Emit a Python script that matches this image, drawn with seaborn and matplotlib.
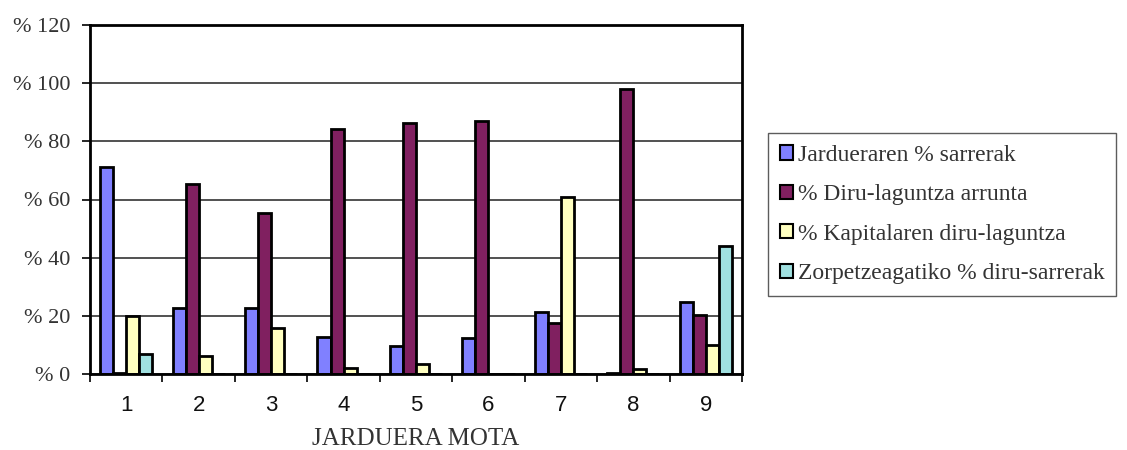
import numpy as np
import pandas as pd
import matplotlib
matplotlib.use("Agg")
import matplotlib.pyplot as plt
import seaborn as sns
from matplotlib.patches import Patch

# Activity types and revenue shares (%)
categories = ["1", "2", "3", "4", "5", "6", "7", "8", "9"]
series_names = [
    "Jardueraren % sarrerak",
    "% Diru-laguntza arrunta",
    "% Kapitalaren diru-laguntza",
    "Zorpetzeagatiko % diru-sarrerak",
]
jarduera = [71.2, 22.6, 22.6, 12.6, 9.6, 12.3, 21.4, 0.3, 24.9]
arrunta = [0.3, 65.4, 55.5, 84.2, 86.2, 87.0, 17.4, 97.9, 20.3]
kapitala = [20.0, 6.2, 15.7, 2.2, 3.4, 0.0, 60.9, 1.7, 10.0]
zorpetze = [6.9, 0.0, 0.0, 0.0, 0.0, 0.0, 0.0, 0.0, 44.1]
y_ticks = [0, 20, 40, 60, 80, 100, 120]
y_tick_labels = ["% 0", "% 20", "% 40", "% 60", "% 80", "% 100", "% 120"]
x_title = "JARDUERA MOTA"

colors = ["#8080FF", "#802060", "#FFFFC0", "#A0E0E0"]

df = pd.DataFrame({
    "mota": categories * 4,
    "serie": np.repeat(series_names, len(categories)),
    "balioa": jarduera + arrunta + kapitala + zorpetze,
})

sns.set_style("white")
serif = ["Liberation Serif", "DejaVu Serif"]
plt.rcParams["font.family"] = serif

fig = plt.figure(figsize=(11.27, 4.5), dpi=100)
ax = fig.add_axes([90 / 1127, 1 - 374 / 450, (742 - 90) / 1127, (374 - 25) / 450])

sns.barplot(data=df, x="mota", y="balioa", hue="serie", order=categories,
            hue_order=series_names, palette=colors, width=0.72,
            edgecolor="black", linewidth=2, saturation=1, legend=False, ax=ax)

ax.set_ylim(0, 120)
ax.set_xlim(-0.5, len(categories) - 0.5)
ax.set_yticks(y_ticks)
ax.set_yticklabels(y_tick_labels, fontsize=16, color="#333333")
ax.yaxis.grid(True, color="#333333", linewidth=1.2)
ax.set_axisbelow(True)

# Boundary ticks between categories, labels at category centres
ax.set_xticks(np.arange(-0.5, len(categories), 1))
ax.set_xticklabels([])
ax.set_xticks(np.arange(len(categories)), minor=True)
ax.set_xticklabels(categories, minor=True, fontsize=16, color="#111111",
                   family=["Liberation Sans", "DejaVu Sans"])
ax.tick_params(axis="x", which="major", direction="out", length=6, width=1.2,
               color="black", bottom=True)
ax.tick_params(axis="x", which="minor", length=0, pad=15, bottom=True)
ax.tick_params(axis="y", direction="out", length=6, width=1.2, color="black",
               left=True, pad=8)

ax.set_xlabel(x_title, fontsize=18, color="#333333", labelpad=9)
ax.set_ylabel("")

for sp in ax.spines.values():
    sp.set_visible(True)
    sp.set_color("black")
    sp.set_linewidth(2)

handles = [Patch(facecolor=c, edgecolor="black", linewidth=1.5) for c in colors]
leg = fig.legend(handles, series_names, loc="upper left",
                 bbox_to_anchor=(768 / 1127, 1 - 133 / 450),
                 prop={"family": serif, "size": 17},
                 frameon=True, fancybox=False, edgecolor="#333333",
                 handlelength=0.55, handleheight=0.55, handletextpad=0.2,
                 labelspacing=0.78, borderpad=0.5, borderaxespad=0)
leg.get_frame().set_linewidth(1.0)
for t in leg.get_texts():
    t.set_color("#333333")

fig.savefig("out.png", dpi=100)
